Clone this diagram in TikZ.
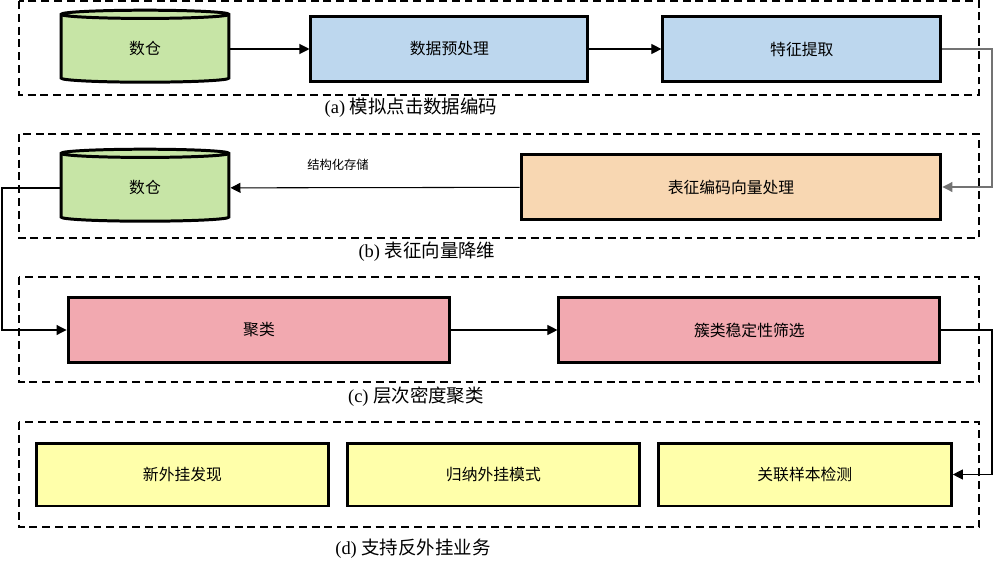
\documentclass[tikz,border=0pt]{standalone}
\usepackage{fontspec}
\setmainfont{Liberation Serif}
\newfontfamily\cjk{Noto Sans CJK SC}
\usepackage{tikz}
\usetikzlibrary{arrows.meta, positioning, shapes.geometric}
\definecolor{cangGreen}{RGB}{199,229,166}
\definecolor{procBlue}{RGB}{189,215,238}
\definecolor{codeOrange}{RGB}{248,215,178}
\definecolor{clusterPink}{RGB}{242,169,176}
\definecolor{bizYellow}{RGB}{255,255,170}

\begin{document}
\begin{tikzpicture}[x=0.02cm, y=-0.02cm,
        every node/.style={inner sep=0pt, font=\cjk\fontsize{9pt}{11pt}\selectfont},
        blockbox/.style={rectangle, draw=black, line width=1.7pt, minimum height=1.3cm},
        cangku/.style={cylinder, shape border rotate=90, draw=black, line width=1.7pt, fill=cangGreen, aspect=0.26, minimum width=3.36cm, minimum height=1.44cm},
        framebox/.style={draw=black, line width=1.1pt, dash pattern=on 4.5pt off 2.8pt},
        link/.style={line width=0.6pt, -{Triangle[length=0.2cm, width=0.2cm]}},
        caption/.style={font=\fontsize{10.5pt}{12pt}\selectfont}]
                \useasboundingbox (0,0) rectangle (994,578);
                \draw[framebox] (19,1) rectangle (979,95);
                \draw[framebox] (19,134) rectangle (979,238);
                \draw[framebox] (19,277) rectangle (979,382);
                \draw[framebox] (19,422) rectangle (979,527);
                \coordinate (railR) at (992,0);
                \coordinate (railL) at (2,0);
                % (a)
                \node[cangku](cangA) at (145,49){数仓};
                \node[blockbox, fill=procBlue, minimum width=5.54cm, right=1.58cm of cangA](yuchuli){数据预处理};
                \node[blockbox, fill=procBlue, minimum width=5.56cm, right=1.44cm of yuchuli](tiqu){特征提取};
                \node[caption](capA) at (411,108){(a) {\cjk 模拟点击数据编码}};
                % (b)
                \node[cangku](cangB) at (145,188){数仓};
                \node[blockbox, fill=codeOrange, minimum width=8.4cm](biaozheng) at (731,187){表征编码向量处理};
                \node[font=\cjk\fontsize{7pt}{8pt}\selectfont](cunchu) at (338,165){结构化存储};
                \node[caption](capB) at (427,252){(b) {\cjk 表征向量降维}};
                % (c)
                \node[blockbox, fill=clusterPink, minimum width=7.64cm](julei) at (259,330){聚类};
                \node[blockbox, fill=clusterPink, minimum width=7.62cm, right=2.12cm of julei](shaixuan){簇类稳定性筛选};
                \node[caption](capC) at (416,397){(c) {\cjk 层次密度聚类}};
                % (d)
                \node[blockbox, fill=bizYellow, minimum width=5.86cm, minimum height=1.26cm](faxian) at (182.5,474.5){新外挂发现};
                \node[blockbox, fill=bizYellow, minimum width=5.84cm, minimum height=1.26cm, right=0.31cm of faxian](guina){归纳外挂模式};
                \node[blockbox, fill=bizYellow, minimum width=5.86cm, minimum height=1.26cm, right=0.32cm of guina](guanlian){关联样本检测};
                \node[caption](capD) at (413,549){(d) {\cjk 支持反外挂业务}};
                % connectors
                \draw[link] (cangA) -- (yuchuli);
                \draw[link] (yuchuli) -- (tiqu);
                \draw[link, draw=black!55] (tiqu.east) -- (tiqu.east -| railR) |- (biaozheng.east);
                \draw[link] (biaozheng) -- (cangB);
                \draw[link] (cangB.west) -- (cangB.west -| railL) |- (julei.west);
                \draw[link] (julei) -- (shaixuan);
                \draw[link] (shaixuan.east) -- (shaixuan.east -| railR) |- (guanlian.east);
            \end{tikzpicture}
\end{document}
